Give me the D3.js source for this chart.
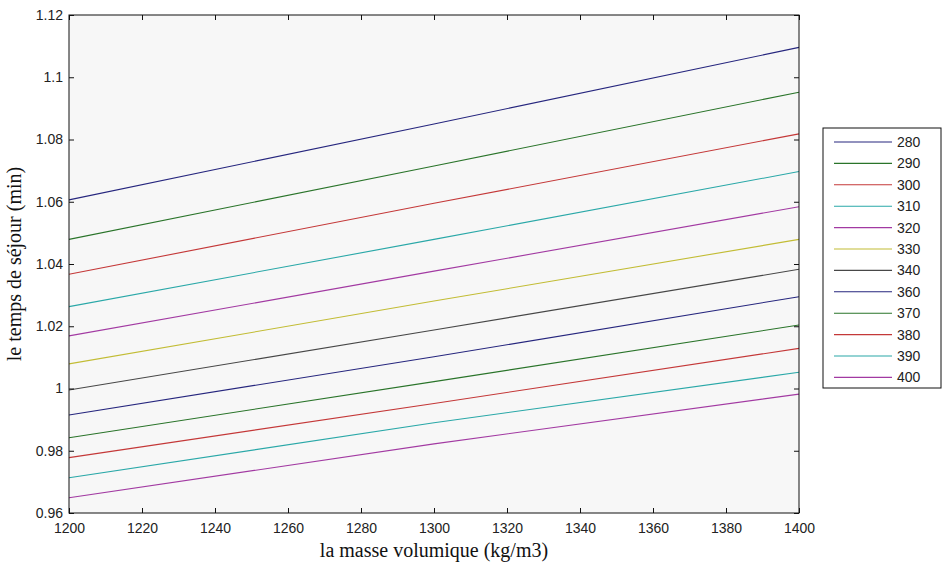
<!DOCTYPE html>
<html>
<head>
<meta charset="utf-8">
<script src="https://cdn.jsdelivr.net/npm/d3@7"></script>
<style>
  body { margin: 0; background: #fff; }
  .tick text { font-family: "Liberation Sans", Arial, sans-serif; font-size: 14px; fill: #222; }
  .axis-title { font-family: "Liberation Serif", "Times New Roman", serif; font-size: 20px; fill: #111; }
  .legend text { font-family: "Liberation Sans", Arial, sans-serif; font-size: 14px; fill: #222; }
</style>
</head>
<body>
<div id="chart"></div>
<script>
// density values (x) where values were read
const densities = [1200, 1300, 1400];

// series names (legend)
const seriesNames = ["280", "290", "300", "310", "320", "330", "340", "360", "370", "380", "390", "400"];

// residence time (min) per series, at 1200 / 1300 / 1400
const s280 = [1.0606, 1.0850, 1.1096];
const s290 = [1.0479, 1.0715, 1.0952];
const s300 = [1.0367, 1.0595, 1.0818];
const s310 = [1.0263, 1.0479, 1.0697];
const s320 = [1.0169, 1.0377, 1.0584];
const s330 = [1.0079, 1.0281, 1.0479];
const s340 = [0.9995, 1.0188, 1.0383];
const s360 = [0.9915, 1.0102, 1.0295];
const s370 = [0.9842, 1.0022, 1.0204];
const s380 = [0.9778, 0.9952, 1.0129];
const s390 = [0.9713, 0.9890, 1.0052];
const s400 = [0.9649, 0.9822, 0.9982];

const seriesValues = [s280, s290, s300, s310, s320, s330, s340, s360, s370, s380, s390, s400];

const xTicks = [1200, 1220, 1240, 1260, 1280, 1300, 1320, 1340, 1360, 1380, 1400];
const yTicks = [0.96, 0.98, 1, 1.02, 1.04, 1.06, 1.08, 1.1, 1.12];

// matlab-like color order (muted, like the jpeg)
const colorOrder = ["#26267e", "#2a742a", "#c43838", "#2aa8a8", "#a23aa2", "#c2bc34", "#474747"];

const width = 942, height = 564;
const margin = { top: 15, right: 143, bottom: 51, left: 69 };
const w = width - margin.left - margin.right,
      h = height - margin.top - margin.bottom;

const svg = d3.select("#chart").append("svg")
    .attr("width", width)
    .attr("height", height);

const g = svg.append("g")
    .attr("transform", "translate(" + margin.left + "," + margin.top + ")");

const x = d3.scaleLinear().domain([1200, 1400]).range([0, w]);
const y = d3.scaleLinear().domain([0.96, 1.12]).range([h, 0]);

// plot background
g.append("rect")
    .attr("width", w)
    .attr("height", h)
    .attr("fill", "#f7f7f7");

// lines
const line = d3.line()
    .x((d, i) => x(densities[i]))
    .y(d => y(d));

g.selectAll(".series")
    .data(seriesValues)
    .enter().append("path")
    .attr("class", "series")
    .attr("d", d => line(d))
    .attr("fill", "none")
    .attr("stroke", (d, i) => colorOrder[i % colorOrder.length])
    .attr("stroke-width", 1.1);

// axes, ticks inside
const fmtY = d => String(+d.toFixed(2));

g.append("g")
    .attr("transform", "translate(0," + h + ")")
    .call(d3.axisBottom(x).tickValues(xTicks).tickSize(-5).tickPadding(10).tickFormat(d3.format("d")));

g.append("g")
    .call(d3.axisTop(x).tickValues(xTicks).tickSize(-5).tickFormat(""));

g.append("g")
    .call(d3.axisLeft(y).tickValues(yTicks).tickSize(-5).tickPadding(6).tickFormat(fmtY));

g.append("g")
    .attr("transform", "translate(" + w + ",0)")
    .call(d3.axisRight(y).tickValues(yTicks).tickSize(-5).tickFormat(""));

g.selectAll(".domain").remove();
g.selectAll(".tick line").attr("stroke", "#111");

g.append("rect")
    .attr("width", w)
    .attr("height", h)
    .attr("fill", "none")
    .attr("stroke", "#111")
    .attr("stroke-width", 1);

// axis titles
svg.append("text")
    .attr("class", "axis-title")
    .attr("x", margin.left + w / 2)
    .attr("y", 557)
    .attr("text-anchor", "middle")
    .text("la masse volumique (kg/m3)");

svg.append("text")
    .attr("class", "axis-title")
    .attr("transform", "translate(21," + (margin.top + h / 2) + ") rotate(-90)")
    .attr("text-anchor", "middle")
    .text("le temps de séjour (min)");

// legend
const legend = svg.append("g")
    .attr("class", "legend")
    .attr("transform", "translate(823,128)");

legend.append("rect")
    .attr("width", 118)
    .attr("height", 260)
    .attr("fill", "#fff")
    .attr("stroke", "#111");

const items = legend.selectAll(".item")
    .data(seriesNames)
    .enter().append("g")
    .attr("class", "item")
    .attr("transform", (d, i) => "translate(0," + (14 + i * 21.4) + ")");

items.append("line")
    .attr("x1", 11).attr("x2", 69)
    .attr("stroke", (d, i) => colorOrder[i % colorOrder.length])
    .attr("stroke-width", 1.1);

items.append("text")
    .attr("x", 74)
    .attr("dy", "0.35em")
    .text(d => d);
</script>
</body>
</html>
